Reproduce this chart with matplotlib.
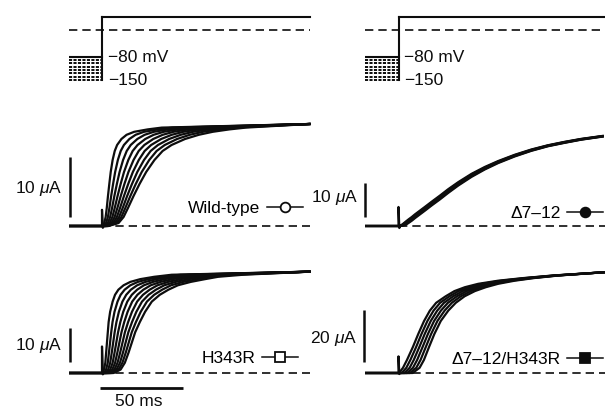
import numpy as np
import matplotlib
matplotlib.use("Agg")
import matplotlib.pyplot as plt
from matplotlib.lines import Line2D

plt.rcParams['font.family'] = ['Liberation Sans', 'DejaVu Sans']
plt.rcParams['mathtext.fontset'] = 'custom'
plt.rcParams['mathtext.it'] = 'Liberation Sans:italic'
plt.rcParams['mathtext.rm'] = 'Liberation Sans'

INK = '#0d0d0d'
FS = 12.5
TRACE_LW = 1.6

# ---------------- voltage protocol (mV / ms) ----------------
prepulse_levels = [-80, -90, -100, -110, -120, -130, -140, -150]
test_level = 40
reference_level = 0
prepulse_start = -20
sweep_end = 125

# ---------------- wild-type: time (ms) at which each sweep reaches a current level (uA) ----------------
wt_levels = [0, 0.5, 1.5, 3, 5, 7, 9, 11, 12.5, 13.5, 14.5, 15.2, 15.7, 16.1, 16.4]
wt_times = [
    [0.5, 0.94, 1.38, 1.81, 2.25, 2.69, 3.13, 3.56, 4.0],
    [1.35, 2.43, 3.51, 4.59, 5.68, 6.76, 7.84, 8.92, 10.0],
    [2.2, 3.55, 4.9, 6.25, 7.6, 8.95, 10.3, 11.65, 13.0],
    [2.87, 4.47, 6.07, 7.66, 9.26, 10.86, 12.46, 14.05, 15.65],
    [3.6, 5.53, 7.45, 9.38, 11.3, 13.23, 15.15, 17.08, 19.0],
    [4.4, 6.68, 8.95, 11.23, 13.5, 15.78, 18.05, 20.33, 22.6],
    [5.25, 7.92, 10.59, 13.26, 15.93, 18.59, 21.26, 23.93, 26.6],
    [6.4, 9.55, 12.7, 15.85, 19.0, 22.15, 25.3, 28.45, 31.6],
    [7.67, 11.27, 14.88, 18.48, 22.09, 25.69, 29.29, 32.9, 36.5],
    [9.1, 13.2, 17.3, 21.4, 25.5, 29.6, 33.7, 37.8, 41.9],
    [11.7, 16.49, 21.28, 26.06, 30.85, 35.64, 40.43, 45.21, 50.0],
    [14.8, 20.24, 25.68, 31.11, 36.55, 41.99, 47.43, 52.86, 58.3],
    [19.4, 25.31, 31.23, 37.14, 43.05, 48.96, 54.88, 60.79, 66.7],
    [27.5, 33.65, 39.8, 45.95, 52.1, 58.25, 64.4, 70.55, 76.7],
    [36.0, 42.34, 48.68, 55.01, 61.35, 67.69, 74.03, 80.36, 86.7],
]
wt_end_current = 17.0
wt_artifact = [0, 2.7, -0.3, 0]

# ---------------- H343R ----------------
h343r_levels = [0, 1, 3, 6, 9, 12, 15, 18, 21, 23, 24.5, 25.8, 26.8, 27.6, 28.3, 28.9]
h343r_times = [
    [0.5, 1.31, 2.13, 2.94, 3.75, 4.56, 5.38, 6.19, 7.0],
    [1.2, 2.45, 3.7, 4.95, 6.2, 7.45, 8.7, 9.95, 11.2],
    [2.0, 3.47, 4.94, 6.41, 7.88, 9.34, 10.81, 12.28, 13.75],
    [2.5, 4.19, 5.88, 7.56, 9.25, 10.94, 12.63, 14.31, 16.0],
    [3.0, 4.88, 6.75, 8.63, 10.5, 12.38, 14.25, 16.13, 18.0],
    [3.5, 5.56, 7.63, 9.69, 11.75, 13.81, 15.88, 17.94, 20.0],
    [4.0, 6.35, 8.7, 11.05, 13.4, 15.75, 18.1, 20.45, 22.8],
    [4.9, 7.53, 10.16, 12.79, 15.43, 18.06, 20.69, 23.32, 25.95],
    [6.4, 9.35, 12.3, 15.25, 18.2, 21.15, 24.1, 27.05, 30.0],
    [7.85, 11.22, 14.59, 17.96, 21.33, 24.69, 28.06, 31.43, 34.8],
    [9.86, 13.63, 17.39, 21.16, 24.93, 28.7, 32.47, 36.23, 40.0],
    [13.0, 17.09, 21.18, 25.26, 29.35, 33.44, 37.53, 41.61, 45.7],
    [17.1, 21.65, 26.2, 30.75, 35.3, 39.85, 44.4, 48.95, 53.5],
    [23.0, 27.88, 32.75, 37.63, 42.5, 47.38, 52.25, 57.13, 62.0],
    [31.5, 36.31, 41.13, 45.94, 50.75, 55.56, 60.38, 65.19, 70.0],
    [42.0, 47.38, 52.75, 58.13, 63.5, 68.88, 74.25, 79.63, 85.0],
]
h343r_end_current = 29.8
h343r_artifact = [0, 7.8, -0.4, 0]

# ---------------- delta7-12: current (uA) of each sweep at fixed times (ms) ----------------
d712_time = [0, 2, 4, 6, 8, 10, 13, 16, 20, 25, 30, 36, 44, 52, 60, 70, 80, 90, 100, 110, 123]
d712_current = [
    [0, 0, 0, 0, 0],
    [0.35, 0.28, 0.2, 0.12, 0.05],
    [1.15, 0.92, 0.7, 0.48, 0.25],
    [1.93, 1.66, 1.4, 1.14, 0.87],
    [2.65, 2.38, 2.1, 1.82, 1.55],
    [3.46, 3.18, 2.9, 2.62, 2.34],
    [4.56, 4.28, 4.0, 3.72, 3.44],
    [5.66, 5.38, 5.1, 4.82, 4.54],
    [7.15, 6.88, 6.6, 6.32, 6.05],
    [8.96, 8.68, 8.4, 8.12, 7.84],
    [10.85, 10.58, 10.3, 10.02, 9.75],
    [12.9, 12.65, 12.4, 12.15, 11.9],
    [15.35, 15.12, 14.9, 14.68, 14.45],
    [17.37, 17.19, 17.0, 16.81, 16.63],
    [19.1, 18.95, 18.8, 18.65, 18.5],
    [20.95, 20.83, 20.7, 20.58, 20.45],
    [22.5, 22.4, 22.3, 22.2, 22.1],
    [23.75, 23.68, 23.6, 23.52, 23.45],
    [24.75, 24.68, 24.6, 24.52, 24.45],
    [25.62, 25.56, 25.5, 25.44, 25.38],
    [26.5, 26.45, 26.4, 26.35, 26.3],
]
d712_artifact = [0, 5.6, -0.6, 0]

# ---------------- delta7-12/H343R: time (ms) at which each sweep reaches a level (uA) ----------------
d712h_levels = [0, 2, 5, 10, 15, 20, 24, 27, 29.5, 31.5, 33, 34.3, 35.5, 36.5, 37.5]
d712h_times = [
    [0.3, 1.94, 3.58, 5.22, 6.86, 8.5],
    [2.7, 4.7, 6.7, 8.7, 10.7, 12.7],
    [5.1, 7.14, 9.18, 11.22, 13.26, 15.3],
    [8.67, 10.62, 12.56, 14.51, 16.45, 18.4],
    [11.9, 13.84, 15.78, 17.72, 19.66, 21.6],
    [15.4, 17.41, 19.42, 21.43, 23.44, 25.45],
    [18.9, 21.12, 23.34, 25.56, 27.78, 30.0],
    [22.7, 25.06, 27.42, 29.78, 32.14, 34.5],
    [28.4, 30.68, 32.96, 35.24, 37.52, 39.8],
    [33.7, 36.16, 38.62, 41.08, 43.54, 46.0],
    [40.0, 42.52, 45.04, 47.56, 50.08, 52.6],
    [48.0, 50.4, 52.8, 55.2, 57.6, 60.0],
    [60.0, 62.0, 64.0, 66.0, 68.0, 70.0],
    [75.0, 76.3, 77.6, 78.9, 80.2, 81.5],
    [93.0, 93.7, 94.4, 95.1, 95.8, 96.5],
]
d712h_end_current = 38.8
d712h_artifact = [0, 6.4, -0.4, 0]

artifact_time = [0, 0, 0.5, 1.0]

# ---------------- figure geometry ----------------
W, H = 605, 409
PX_PER_MS = 83 / 50.0

fig = plt.figure(figsize=(W / 100, H / 100), dpi=100)
fig.patch.set_facecolor('white')


def add_panel(x0, x1, y0, y1, t_zero_px, base_px, px_per_unit):
    ax = fig.add_axes([x0 / W, 1 - y1 / H, (x1 - x0) / W, (y1 - y0) / H])
    ax.set_xlim((x0 - t_zero_px) / PX_PER_MS, (x1 - t_zero_px) / PX_PER_MS)
    ax.set_ylim((base_px - y1) / px_per_unit, (base_px - y0) / px_per_unit)
    ax.axis('off')
    return ax


def draw_protocol(ax, label_t):
    ax.plot([prepulse_start, sweep_end], [reference_level] * 2, color=INK,
            lw=1.2, ls=(0, (5, 3)), clip_on=False)
    ax.plot([0, sweep_end], [test_level] * 2, color=INK, lw=1.5, clip_on=False)
    ax.plot([0, 0], [min(prepulse_levels), test_level], color=INK, lw=1.5)
    ax.plot([prepulse_start, 0], [prepulse_levels[0]] * 2, color=INK, lw=1.5)
    for lv in prepulse_levels[1:]:
        ax.plot([prepulse_start, -0.6], [lv, lv], color=INK, lw=1.4,
                dashes=(1.6, 0.7))
    ax.text(label_t, prepulse_levels[0] - 4, "\u221280 mV", fontsize=FS,
            va='center', ha='left', color=INK)
    ax.text(label_t, prepulse_levels[-1] - 2, "\u2212150", fontsize=FS,
            va='center', ha='left', color=INK)


def draw_level_sweeps(ax, levels, times, end_current, artifact):
    times = np.asarray(times).T
    for sweep in times:
        t = np.concatenate([[prepulse_start], sweep, [sweep_end]])
        i = np.concatenate([[0], levels, [end_current]])
        ax.plot(t, i, color=INK, lw=TRACE_LW, solid_joinstyle='round')
    ax.plot(artifact_time, artifact, color=INK, lw=TRACE_LW)


def draw_grid_sweeps(ax, time, current, artifact):
    current = np.asarray(current).T
    for sweep in current:
        t = np.concatenate([[prepulse_start], time])
        i = np.concatenate([[0], sweep])
        ax.plot(t, i, color=INK, lw=TRACE_LW, solid_joinstyle='round')
    ax.plot(artifact_time, artifact, color=INK, lw=TRACE_LW)


def zero_line(ax):
    ax.plot([0, sweep_end], [0, 0], color=INK, lw=1.2, ls=(0, (5, 3)),
            zorder=0, clip_on=False)


def scale_bar(ax, t, i0, amp, label, label_t, label_i):
    ax.plot([t, t], [i0, i0 + amp], color=INK, lw=1.8, clip_on=False,
            solid_capstyle='butt')
    ax.text(label_t, label_i, label, fontsize=FS, ha='right', va='center',
            color=INK, clip_on=False)


def key(ax, name, marker, filled, right_px, center_px):
    h = Line2D([], [], color=INK, lw=1.1, marker=marker, ms=7 if marker == 'o' else 6.5,
               mfc=INK if filled else 'white', mec=INK, mew=1.3)
    ax.legend([h], [name], loc='center right',
              bbox_to_anchor=(right_px / W, 1 - center_px / H),
              bbox_transform=fig.transFigure, frameon=False, fontsize=FS,
              markerfirst=False, handlelength=2.1, handletextpad=0.35,
              borderpad=0, borderaxespad=0, numpoints=1)


# ---------------- voltage protocols ----------------
ax_pl = add_panel(69, 312, 5, 95, 102, 30, 1 / 3)
draw_protocol(ax_pl, 3.6)
ax_pr = add_panel(365, 605, 5, 95, 398.5, 30, 1 / 3)
draw_protocol(ax_pr, 3.3)

# ---------------- wild-type ----------------
ax_wt = add_panel(69, 312, 112, 232, 102, 226, 6.0)
zero_line(ax_wt)
draw_level_sweeps(ax_wt, wt_levels, wt_times, wt_end_current, wt_artifact)
scale_bar(ax_wt, -19.3, 1.5, 10, "10 $\\mathit{\\mu}$A", -24.1, 6.3)
key(ax_wt, "Wild-type", 'o', False, 303, 208)

# ---------------- delta7-12 ----------------
ax_d = add_panel(365, 605, 112, 232, 398.5, 226, 3.4)
zero_line(ax_d)
draw_grid_sweeps(ax_d, d712_time, d712_current, d712_artifact)
scale_bar(ax_d, -20.2, 2.6, 10, "10 $\\mathit{\\mu}$A", -24.4, 8.5)
key(ax_d, "\u03947\u201312", 'o', True, 603, 213)

# ---------------- H343R ----------------
ax_h = add_panel(69, 312, 262, 409, 102, 373, 3.4)
zero_line(ax_h)
draw_level_sweeps(ax_h, h343r_levels, h343r_times, h343r_end_current, h343r_artifact)
scale_bar(ax_h, -19.3, 3.2, 10, "10 $\\mathit{\\mu}$A", -24.1, 8.2)
key(ax_h, "H343R", 's', False, 298, 358)
ax_h.plot([-1.2, 48.8], [-4.4, -4.4], color=INK, lw=2.0, solid_capstyle='butt')
ax_h.text(22.3, -8.4, "50 ms", fontsize=FS, ha='center', va='center', color=INK)

# ---------------- delta7-12/H343R ----------------
ax_dh = add_panel(365, 605, 262, 380, 398.5, 373, 2.6)
zero_line(ax_dh)
draw_level_sweeps(ax_dh, d712h_levels, d712h_times, d712h_end_current, d712h_artifact)
scale_bar(ax_dh, -20.8, 4.2, 20, "20 $\\mathit{\\mu}$A", -25.0, 13.1)
key(ax_dh, "\u03947\u201312/H343R", 's', True, 603, 359)

fig.savefig("out.png", dpi=100, facecolor='white')
